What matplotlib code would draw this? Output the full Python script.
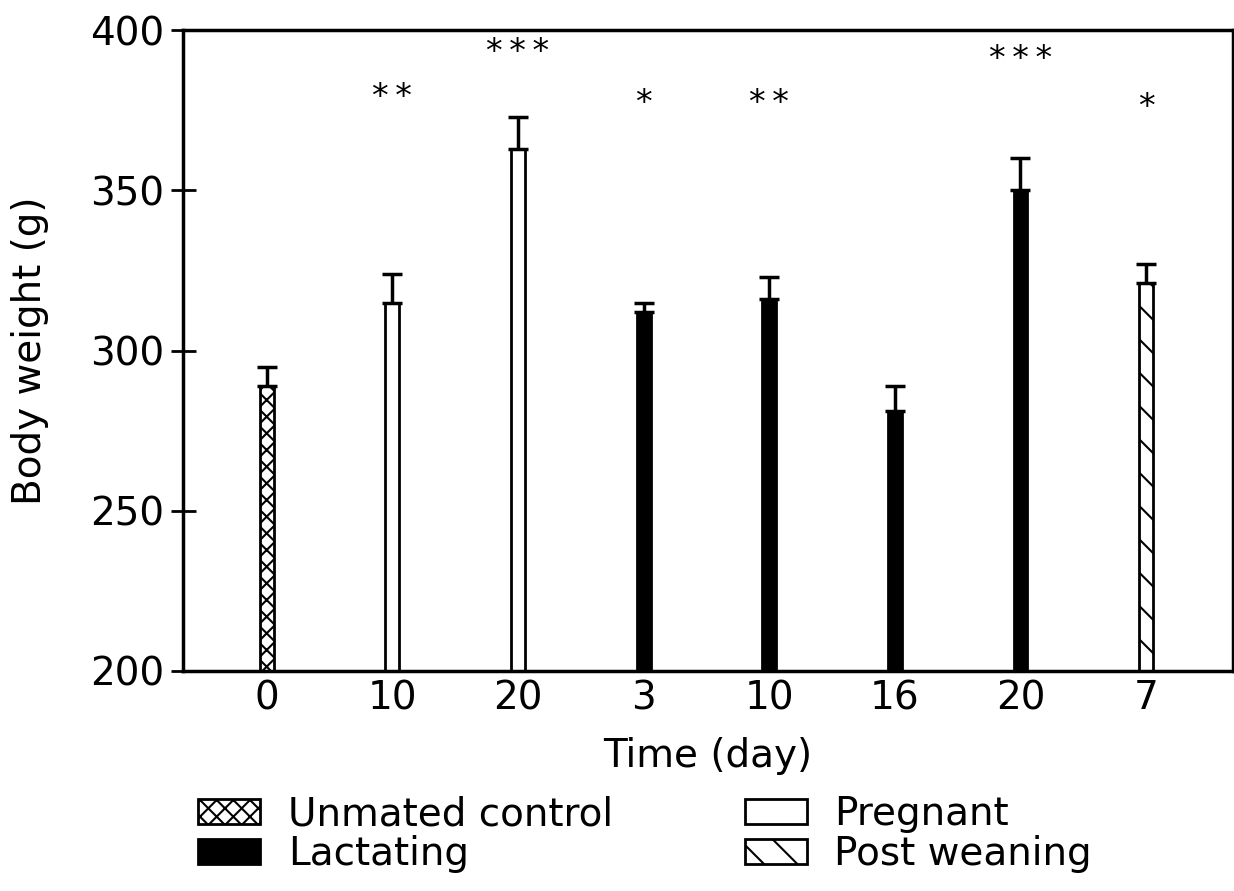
#!/usr/bin/env python3
"""Body weight over the reproductive cycle: unmated control, pregnant,
lactating and post-weaning groups, mean + SEM with significance stars."""
import numpy as np
import matplotlib
matplotlib.use("Agg")
import matplotlib.pyplot as plt
from matplotlib.patches import Patch

DAYS = ["0", "10", "20", "3", "10", "16", "20", "7"]
GROUPS = ["control", "pregnant", "pregnant", "lactating", "lactating",
          "lactating", "lactating", "weaning"]
WEIGHT = [289, 315, 363, 312, 316, 281, 350, 321]
SEM = [6, 9, 10, 3, 7, 8, 10, 6]
STARS = ["", "**", "***", "*", "**", "", "***", "*"]
STAR_Y = [0, 379, 393, 377, 377, 0, 391, 376]

STYLE = {
    "control": dict(facecolor="white", hatch="xx"),
    "pregnant": dict(facecolor="white", hatch=""),
    "lactating": dict(facecolor="black", hatch=""),
    "weaning": dict(facecolor="white", hatch="\\"),
}
# column-major order for a 2-column legend
LEGEND = [("control", "Unmated control"), ("lactating", "Lactating"),
          ("pregnant", "Pregnant"), ("weaning", "Post weaning")]

plt.rcParams["font.family"] = "DejaVu Sans"
plt.rcParams["hatch.linewidth"] = 1.5

fig = plt.figure(figsize=(12.34, 8.91), dpi=100)
ax = fig.add_axes([0.148, 0.247, 0.851, 0.719])

x = np.arange(len(WEIGHT))
for xi, w, e, g in zip(x, WEIGHT, SEM, GROUPS):
    ax.bar(xi, w - 200, bottom=200, width=0.11, edgecolor="black",
           linewidth=2, **STYLE[g])
    ax.errorbar(xi, w, yerr=[[0], [e]], fmt="none", ecolor="black",
                elinewidth=2.5, capsize=7, capthick=2.5)
for xi, s, sy in zip(x, STARS, STAR_Y):
    if s:
        ax.text(xi, sy, "\u2009".join(s), ha="center", va="center",
                fontsize=24)

ax.set_xlim(-0.67, 7.69)
ax.set_ylim(200, 400)
ax.set_yticks([200, 250, 300, 350, 400])
ax.set_xticks(x)
ax.set_xticklabels(DAYS)
ax.tick_params(axis="y", direction="inout", length=18, width=2,
               labelsize=28, pad=4)
ax.tick_params(axis="x", length=0, labelsize=28, pad=6)
for sp in ax.spines.values():
    sp.set_linewidth(2.5)
ax.set_ylabel("Body weight (g)", fontsize=28, labelpad=30)
ax.set_xlabel("Time (day)", fontsize=28, labelpad=14)

handles = [Patch(edgecolor="black", linewidth=2, label=lab, **STYLE[k])
           for k, lab in LEGEND]
fig.legend(handles=handles, ncol=2, loc="upper left",
           bbox_to_anchor=(0.148, 0.125), frameon=False, fontsize=28,
           handlelength=1.6, handleheight=0.6, handletextpad=0.7,
           labelspacing=0.05, columnspacing=3.4, borderaxespad=0)

fig.savefig("out.png", dpi=100, facecolor="white")
